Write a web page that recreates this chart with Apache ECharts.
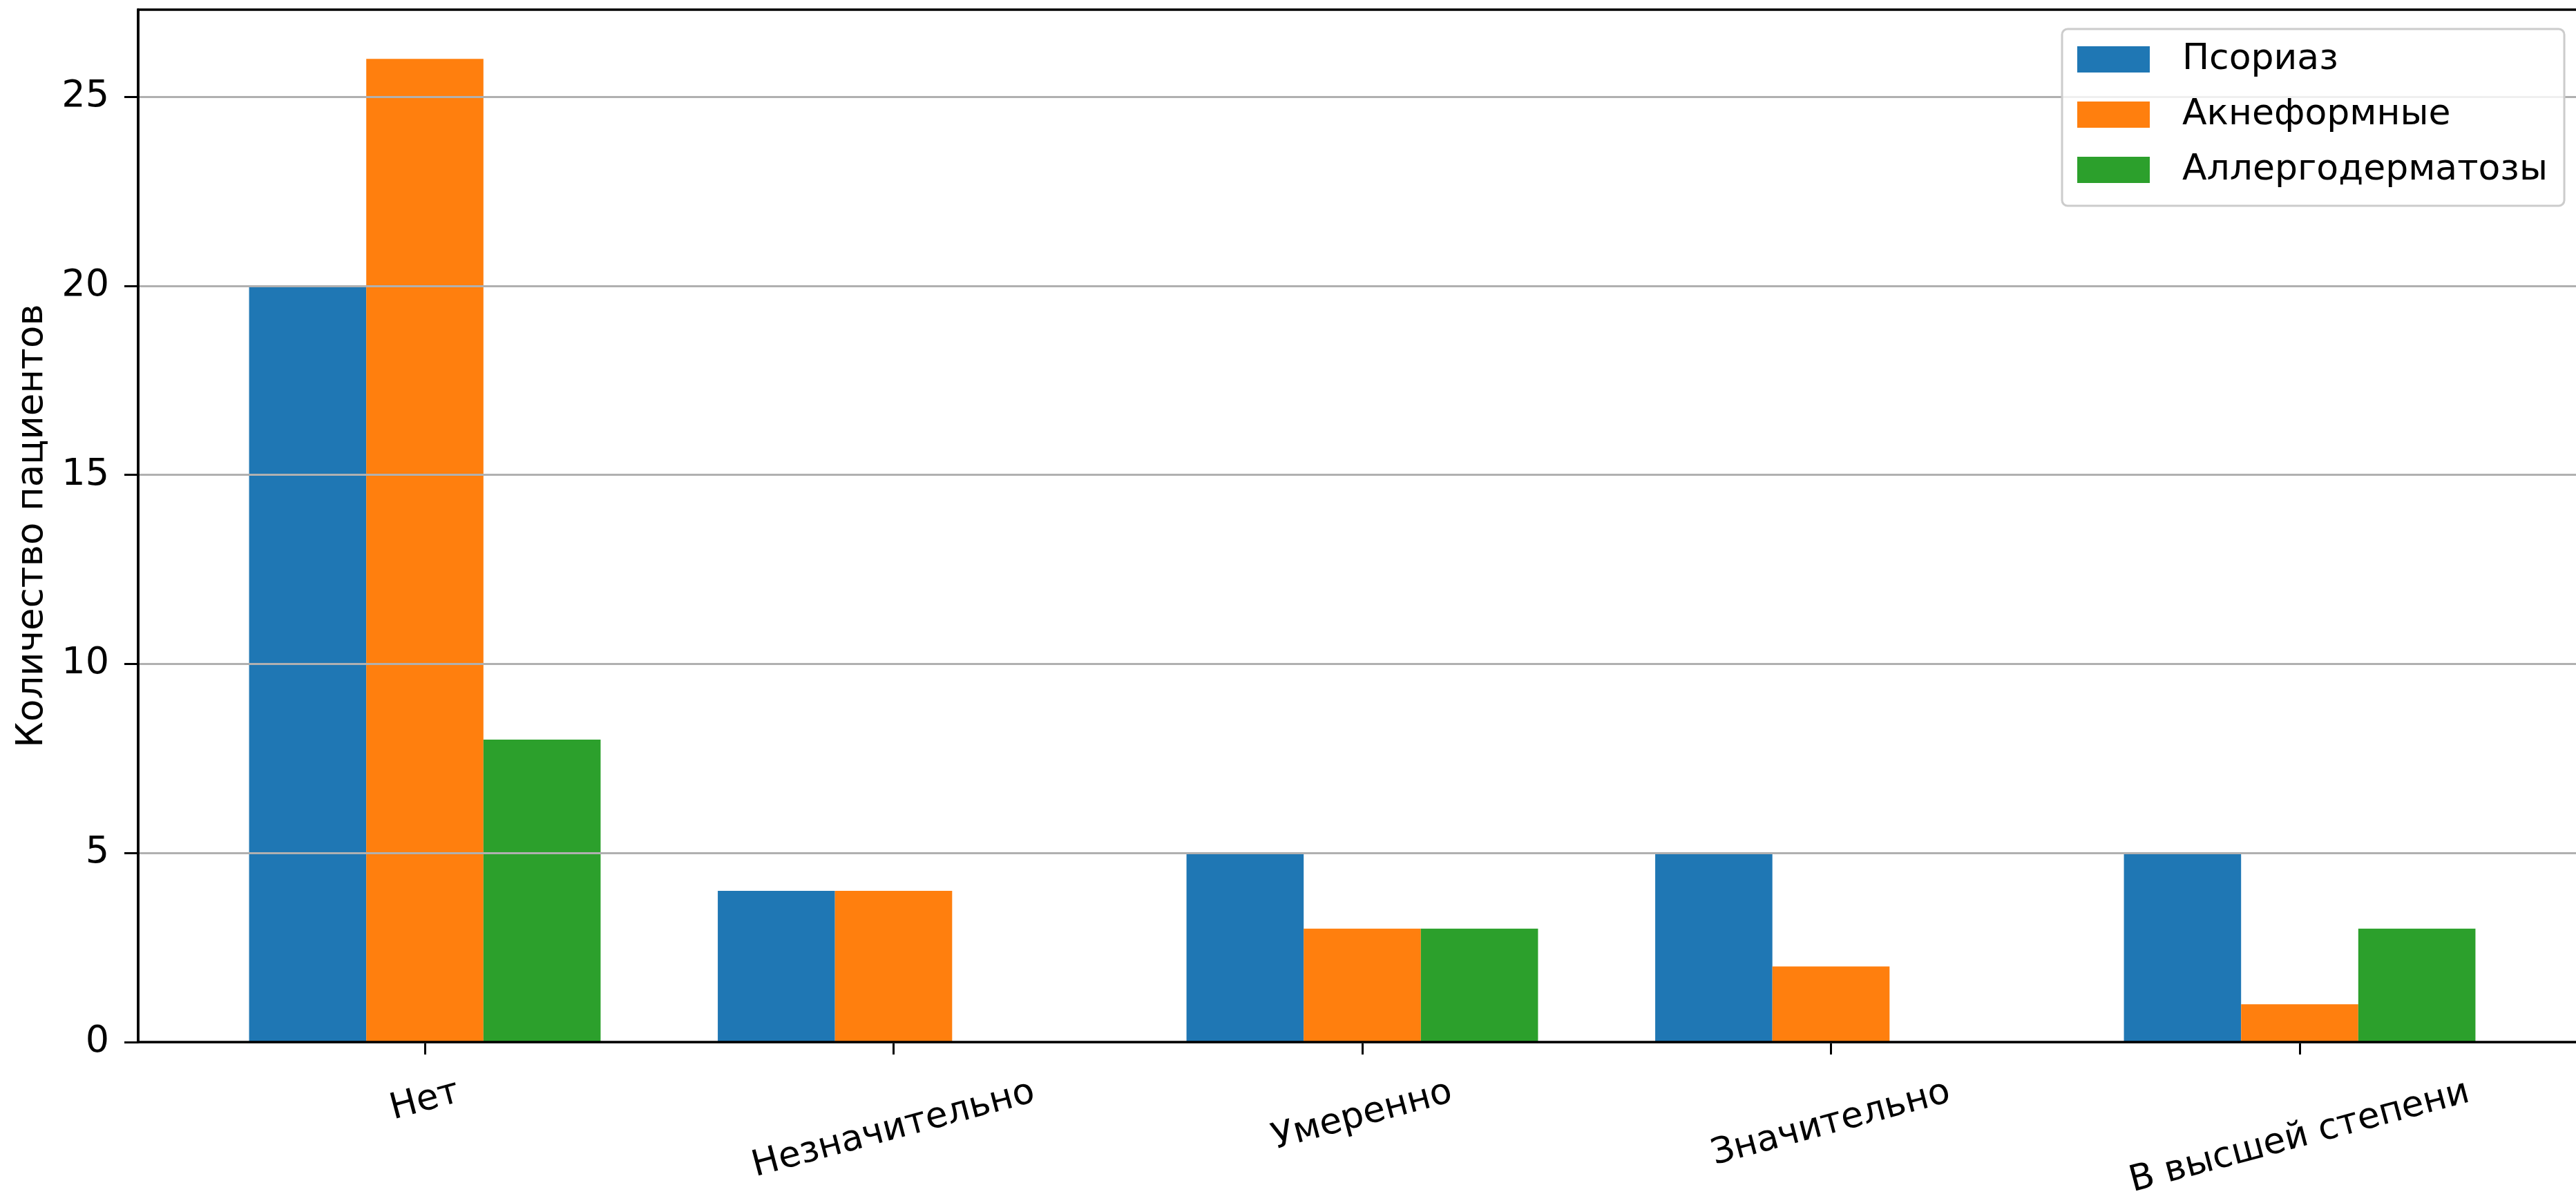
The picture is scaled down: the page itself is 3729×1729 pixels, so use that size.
<!DOCTYPE html>
<html><head><meta charset="utf-8">
<script src="https://cdn.jsdelivr.net/npm/echarts@6/dist/echarts.min.js"></script>
<style>html,body{margin:0;padding:0;background:#fff}#c{width:3729px;height:1729px}</style>
</head><body><div id="c"></div>
<script>
const categories = ['Нет', 'Незначительно', 'Умеренно', 'Значительно', 'В высшей степени'];
const seriesNames = ['Псориаз', 'Акнеформные', 'Аллергодерматозы'];
const psoriasis = [20, 4, 5, 5, 5];
const acne = [26, 4, 3, 2, 1];
const allergo = [8, 0, 3, 0, 3];
const yTicks = [0, 5, 10, 15, 20, 25];
const yMax = 27.3;
const yTitle = 'Количество пациентов';

const FONT = 'DejaVu Sans';
const colors = ['#1f77b4', '#ff7f0e', '#2ca02c'];
const XFS = 52, ROT = 15;
const ctx = document.createElement('canvas').getContext('2d');
ctx.font = XFS + 'px "' + FONT + '"';
const th = ROT * Math.PI / 180;
// per-label rich styles: shift each rotated label so that the tops of all labels line up (like matplotlib)
const rich = {};
categories.forEach((c, i) => {
  const L = ctx.measureText(c).width;
  const D = (L * Math.sin(th) + 0.73 * XFS * Math.cos(th)) / 2 + 3;
  rich['p' + i] = {
    fontSize: XFS, color: '#000', fontFamily: FONT,
    padding: [2 * D * Math.cos(th), 2 * D * Math.sin(th), 0, 0]
  };
});
const catData = categories.map(c => ({ value: c, textStyle: { align: 'center', verticalAlign: 'middle' } }));

const chart = echarts.init(document.getElementById('c'), null, { renderer: 'canvas' });
const values = [psoriasis, acne, allergo];
chart.setOption({
  animation: false,
  backgroundColor: '#fff',
  textStyle: { fontFamily: FONT },
  grid: [
    { left: 200, top: 14, width: 3542, height: 1495, show: true, borderColor: '#000', borderWidth: 3.5,
      backgroundColor: 'transparent', z: 4, containLabel: false, outerBoundsMode: 'none' },
    { left: 275.75, top: 14, width: 3392.5, height: 1495, containLabel: false, outerBoundsMode: 'none' }
  ],
  legend: {
    data: seriesNames, orient: 'vertical', left: 2985, top: 42,
    itemWidth: 105, itemHeight: 38, itemGap: 20, icon: 'rect',
    padding: [14, 24, 22, 22],
    backgroundColor: 'rgba(255,255,255,0.8)', borderColor: '#cccccc', borderWidth: 3, borderRadius: 8,
    textStyle: { fontSize: 52, fontFamily: FONT, color: '#000', padding: [0, 0, 0, 42], lineHeight: 60 },
    z: 10
  },
  xAxis: [
    { type: 'value', gridIndex: 0, min: 0, max: 1, show: false },
    { type: 'category', gridIndex: 1, data: catData,
      axisLine: { show: false },
      axisTick: { show: true, alignWithLabel: true, length: 18, lineStyle: { color: '#000', width: 3 } },
      axisLabel: { interval: 0, rotate: ROT, margin: 51, fontSize: XFS, color: '#000', fontFamily: FONT,
        align: 'center', verticalAlign: 'middle',
        formatter: (v, i) => '{p' + i + '|' + v + '}', rich: rich },
      splitLine: { show: false }
    }
  ],
  yAxis: [
    { type: 'value', gridIndex: 0, min: 0, max: yMax, interval: 5, z: 3,
      axisLine: { show: true, lineStyle: { color: '#000', width: 3.5 } },
      axisTick: { show: true, length: 20, customValues: yTicks, lineStyle: { color: '#000', width: 3 } },
      axisLabel: { fontSize: 54, margin: 42, color: '#000', fontFamily: FONT, customValues: yTicks },
      splitLine: { show: true, lineStyle: { color: '#b0b0b0', width: 3 } },
      name: yTitle, nameLocation: 'middle', nameGap: 126,
      nameTextStyle: { fontSize: 53, color: '#000', fontFamily: FONT }
    },
    { type: 'value', gridIndex: 1, min: 0, max: yMax, show: false }
  ],
  series: seriesNames.map((n, i) => ({
    name: n, type: 'bar', xAxisIndex: 1, yAxisIndex: 1,
    data: values[i], barWidth: '25%', barGap: '0%',
    itemStyle: { color: colors[i] }
  }))
});
</script></body></html>
